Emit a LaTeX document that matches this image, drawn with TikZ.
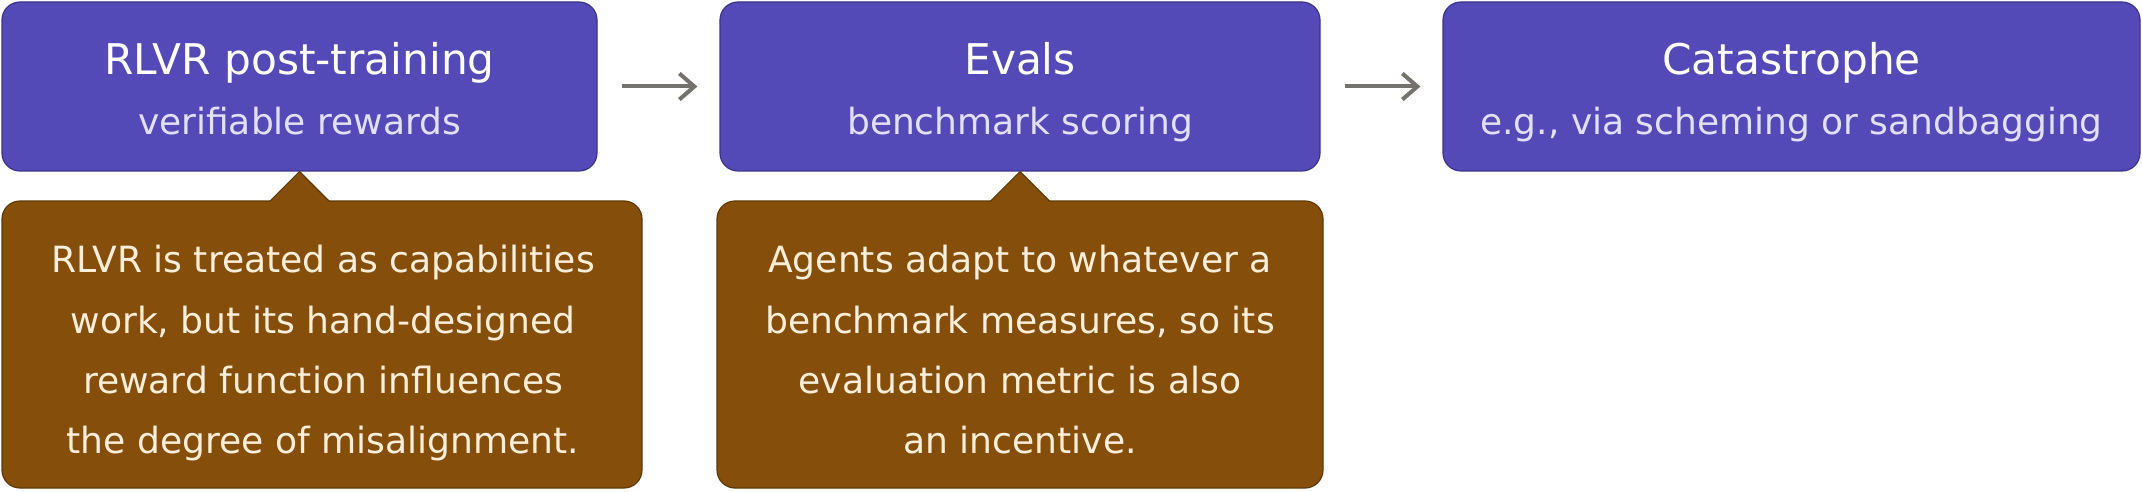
\documentclass[tikz,border=0pt]{standalone}
\usepackage{fontspec}
\setmainfont{DejaVu Sans}
\usetikzlibrary{arrows.meta}
\definecolor{boxpurple}{HTML}{534AB7}
\definecolor{edgepurple}{HTML}{3C3489}
\definecolor{boxbrown}{HTML}{854F0B}
\definecolor{edgebrown}{HTML}{5C3A08}
\definecolor{notecol}{HTML}{FAEEDA}
\definecolor{subcol}{HTML}{E2E0F8}
\definecolor{arrowgray}{HTML}{73726C}
\begin{document}
\begin{tikzpicture}[x=1pt,y=1pt,
  stagebox/.style={draw=edgepurple, line width=1.2pt, fill=boxpurple, rounded corners=18pt, minimum height=169pt, inner sep=0pt},
  notebox/.style={draw=edgebrown, line width=1.2pt, fill=boxbrown, rounded corners=18pt, minimum height=287pt, inner sep=0pt},
  titletext/.style={anchor=base, inner sep=0pt, text=white, font=\fontsize{42.3}{50}\selectfont},
  subtitletext/.style={anchor=base, inner sep=0pt, text=subcol, font=\fontsize{36}{43}\selectfont},
  notebody/.style={anchor=north, inner sep=0pt, text=notecol, align=center, font=\fontsize{36.1}{60.3}\selectfont},
  flow/.style={draw=arrowgray, line width=4pt, -{Straight Barb[length=15pt,width=26pt]}},
  pointerfill/.style={fill=boxbrown},
  pointeredge/.style={draw=edgebrown, line width=1.2pt}
]
\useasboundingbox (0,0) rectangle (2142,-492);

% stage boxes
\node[stagebox, minimum width=595pt] (b1) at (299.5,-86.5) {};
\node[stagebox, minimum width=600pt] (b2) at (1020,-86.5) {};
\node[stagebox, minimum width=697pt] (b3) at (1791.5,-86.5) {};

\node[titletext] (b1t) at (299.5,-75) {RLVR post-training};
\node[subtitletext] (b1s) at (299.5,-135) {verifiable rewards};
\node[titletext] (b2t) at (1020,-75) {Evals};
\node[subtitletext] (b2s) at (1020,-135) {benchmark scoring};
\node[titletext] (b3t) at (1791.5,-75) {Catastrophe};
\node[subtitletext] (b3s) at (1791.5,-135) {e.g., via scheming or sandbagging};

% arrows
\draw[flow] ([xshift=24pt]b1.east) -- ([xshift=-22pt]b2.west);
\draw[flow] ([xshift=24pt]b2.east) -- ([xshift=-22pt]b3.west);

% note boxes
\node[notebox, minimum width=640pt] (n1) at (322,-344.5) {};
\node[notebox, minimum width=606pt] (n2) at (1020,-344.5) {};

% pointers
\fill[pointerfill] (b1.south) -- ([shift={(32pt,-32pt)}]b1.south) -- ([shift={(-32pt,-32pt)}]b1.south) -- cycle;
\draw[pointeredge] ([shift={(-30pt,-30pt)}]b1.south) -- (b1.south) -- ([shift={(30pt,-30pt)}]b1.south);
\fill[pointerfill] (b2.south) -- ([shift={(32pt,-32pt)}]b2.south) -- ([shift={(-32pt,-32pt)}]b2.south) -- cycle;
\draw[pointeredge] ([shift={(-30pt,-30pt)}]b2.south) -- (b2.south) -- ([shift={(30pt,-30pt)}]b2.south);

% note texts
\node[notebody] (n1t) at (323,-245.3) {RLVR is treated as capabilities\\work, but its hand-designed\\reward function influences\\the degree of misalignment.};
\node[notebody] (n2t) at (1020,-245.3) {Agents adapt to whatever a\\benchmark measures, so its\\evaluation metric is also\\an incentive.};
\end{tikzpicture}
\end{document}
